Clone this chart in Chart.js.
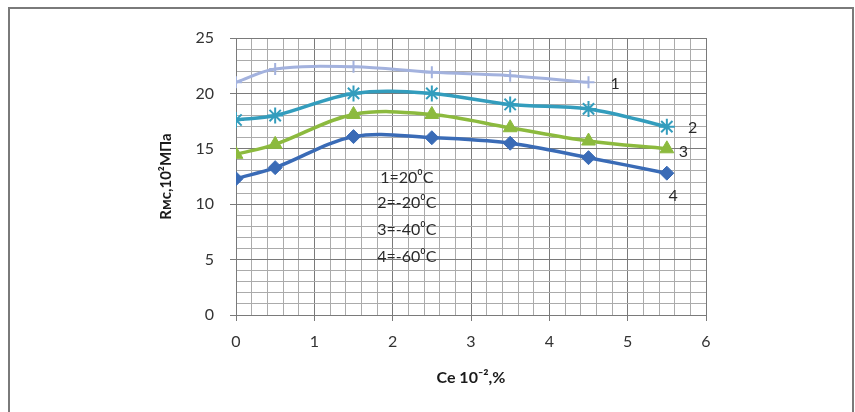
<!DOCTYPE html>
<html>
<head>
<meta charset="utf-8">
<script src="https://cdn.jsdelivr.net/npm/chart.js@4/dist/chart.umd.min.js"></script>
<style>
  html, body { margin: 0; padding: 0; background: #fff; }
  #wrap { position: relative; width: 855px; height: 412px; overflow: hidden; }
  #frame {
    position: absolute; left: 8px; top: 7px; width: 842px; height: 420px;
    border: 2px solid #7a7a7a; border-bottom: none; pointer-events: none;
  }
  canvas { position: absolute; left: 0; top: 0; }
</style>
</head>
<body>
<div id="wrap">
  <canvas id="chart" width="855" height="412"></canvas>
  <div id="frame"></div>
</div>
<script>
// Ce content, 10^-2 %
const ceValues = [0, 0.5, 1.5, 2.5, 3.5, 4.5, 5.5];

// Rмс, 10^2 МПа at four test temperatures
const series1 = [21.0, 22.2, 22.4, 21.9, 21.6, 21.0];       // 20 °C
const series2 = [17.6, 18.0, 20.0, 20.0, 19.0, 18.6, 17.0]; // -20 °C
const series3 = [14.5, 15.4, 18.1, 18.1, 16.9, 15.7, 15.0]; // -40 °C
const series4 = [12.3, 13.3, 16.1, 16.0, 15.5, 14.2, 12.8]; // -60 °C

const seriesNames = ['1', '2', '3', '4'];
const legendLines = ['1=20⁰C', '2=-20⁰C', '3=-40⁰C', '4=-60⁰C'];

const xTicks = [0, 1, 2, 3, 4, 5, 6];
const yTicks = [0, 5, 10, 15, 20, 25];

const FONT = 'Lato, "Open Sans", sans-serif';
const isWhole = v => Math.abs(v - Math.round(v)) < 1e-6;

const toPoints = vals => vals.map((v, i) => ({ x: ceValues[i], y: v }));

// text written on the plot: curve numbers and the temperature key
const textLabels = {
    id: 'textLabels',
    afterDatasetsDraw(chart) {
        const { ctx, scales: { x, y } } = chart;
        ctx.save();
        ctx.fillStyle = '#2a2a2a';
        ctx.textAlign = 'center';
        ctx.textBaseline = 'middle';
        ctx.font = '16px ' + FONT;

        const tags = [[4.84, 20.9], [5.83, 16.9], [5.71, 14.7], [5.58, 10.75]];
        tags.forEach((t, i) => {
            ctx.fillText(seriesNames[i], x.getPixelForValue(t[0]), y.getPixelForValue(t[1]));
        });

        const keyY = [12.35, 10.1, 7.65, 5.25];
        legendLines.forEach((s, i) => {
            ctx.fillText(s, x.getPixelForValue(2.18), y.getPixelForValue(keyY[i]));
        });
        ctx.restore();
    }
};

new Chart(document.getElementById('chart'), {
    type: 'line',
    data: {
        datasets: [
            {
                label: seriesNames[0],
                data: toPoints(series1),
                borderColor: '#a3b2de',
                backgroundColor: '#a3b2de',
                borderWidth: 3,
                pointStyle: 'cross',
                pointRadius: 6,
                pointBorderWidth: 2
            },
            {
                label: seriesNames[1],
                data: toPoints(series2),
                borderColor: '#339dbd',
                backgroundColor: '#339dbd',
                borderWidth: 3.5,
                pointStyle: 'star',
                pointRadius: 8,
                pointBorderWidth: 2
            },
            {
                label: seriesNames[2],
                data: toPoints(series3),
                borderColor: '#8cba3e',
                backgroundColor: '#8cba3e',
                borderWidth: 3.5,
                pointStyle: 'triangle',
                pointRadius: 8,
                pointBorderWidth: 1
            },
            {
                label: seriesNames[3],
                data: toPoints(series4),
                borderColor: '#3a6bb6',
                backgroundColor: '#3a6bb6',
                borderWidth: 3.5,
                pointStyle: 'rectRot',
                pointRadius: 7,
                pointBorderWidth: 1
            }
        ]
    },
    options: {
        responsive: false,
        animation: false,
        tension: 0.35,
        layout: { padding: { left: 140, right: 149, top: 38, bottom: 0 } },
        plugins: {
            legend: { display: false },
            tooltip: { enabled: false }
        },
        scales: {
            x: {
                type: 'linear',
                min: 0,
                max: 6,
                afterFit: s => { s.height = 97; },
                ticks: {
                    stepSize: 0.2,
                    maxTicksLimit: 100,
                    autoSkip: false,
                    maxRotation: 0,
                    padding: 11,
                    color: '#333',
                    font: { family: FONT, size: 16 },
                    callback: v => (isWhole(v) && xTicks.includes(Math.round(v))) ? String(Math.round(v)) : ''
                },
                grid: {
                    tickLength: 6,
                    lineWidth: 1,
                    color: c => isWhole(c.tick.value) ? '#7a7a7a' : '#ababab',
                    tickColor: c => isWhole(c.tick.value) ? '#7a7a7a' : 'rgba(0,0,0,0)'
                },
                border: { color: '#7a7a7a' },
                title: {
                    display: true,
                    text: 'Ce 10⁻²,%',
                    color: '#1a1a1a',
                    font: { family: FONT, size: 16, weight: 'bold' },
                    padding: { top: 0, bottom: 25 }
                }
            },
            y: {
                min: 0,
                max: 25,
                afterFit: s => { s.width = 96; },
                ticks: {
                    stepSize: 1,
                    autoSkip: false,
                    padding: 16,
                    color: '#333',
                    font: { family: FONT, size: 16 },
                    callback: v => yTicks.includes(v) ? String(v) : ''
                },
                grid: {
                    tickLength: 6,
                    lineWidth: 1,
                    color: c => c.tick.value % 5 === 0 ? '#7a7a7a' : '#ababab',
                    tickColor: c => c.tick.value % 5 === 0 ? '#7a7a7a' : 'rgba(0,0,0,0)'
                },
                border: { color: '#7a7a7a' },
                title: {
                    display: true,
                    text: 'Rмс,10²МПа',
                    color: '#1a1a1a',
                    font: { family: FONT, size: 15, weight: 'bold' },
                    padding: { top: 17, bottom: 17 }
                }
            }
        }
    },
    plugins: [textLabels]
});
</script>
</body>
</html>
